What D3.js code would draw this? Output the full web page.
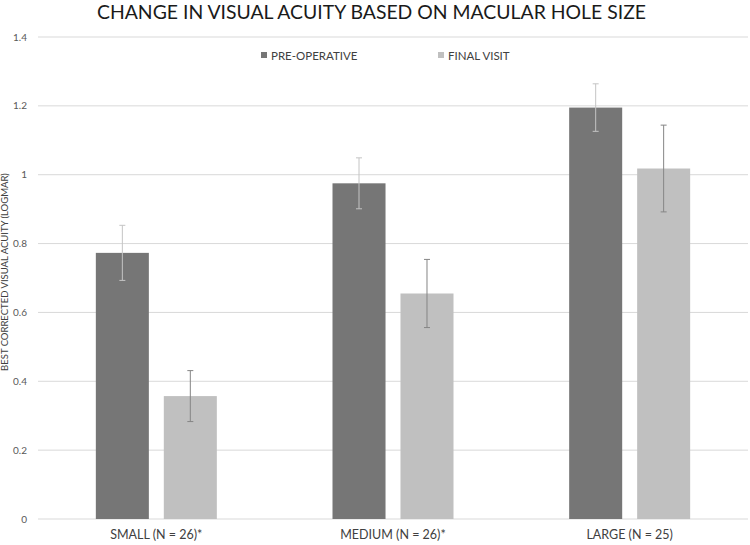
<!DOCTYPE html>
<html>
<head>
<meta charset="utf-8">
<script src="https://cdn.jsdelivr.net/npm/d3@7"></script>
<style>
  body { margin: 0; background: #fff; }
  text { font-family: Lato, "Open Sans", sans-serif; }
</style>
</head>
<body>
<div id="chart"></div>
<script>
// data
const categories = ['SMALL (N = 26)*', 'MEDIUM (N = 26)*', 'LARGE (N = 25)'];
const seriesNames = ['PRE-OPERATIVE', 'FINAL VISIT'];
const preOp = [0.773, 0.975, 1.195];
const preOpErr = [0.08, 0.074, 0.069];
const finalVisit = [0.357, 0.655, 1.018];
const finalErr = [0.074, 0.099, 0.126];
const yTicks = [0, 0.2, 0.4, 0.6, 0.8, 1, 1.2, 1.4];

const colors = ['#767676', '#c0c0c0'];
const errColors = ['#c4c4c4', '#858585'];

const width = 750, height = 545;
const margin = { top: 37, right: 2, bottom: 26, left: 38 };

const svg = d3.select('#chart').append('svg')
  .attr('width', width)
  .attr('height', height);

const x = d3.scaleBand()
  .domain(categories)
  .range([margin.left, width - margin.right]);

const x1 = d3.scaleBand()
  .domain(seriesNames)
  .range([0, 121])
  .paddingInner(0.22);

const y = d3.scaleLinear()
  .domain([0, 1.4])
  .range([height - margin.bottom, margin.top]);

// gridlines
svg.append('g')
  .selectAll('line')
  .data(yTicks)
  .enter()
  .append('line')
  .attr('x1', margin.left)
  .attr('x2', width - margin.right)
  .attr('y1', d => y(d))
  .attr('y2', d => y(d))
  .attr('stroke', '#d9d9d9')
  .attr('stroke-width', 1);

// y tick labels
svg.append('g')
  .selectAll('text')
  .data(yTicks)
  .enter()
  .append('text')
  .attr('x', 27)
  .attr('y', d => y(d))
  .attr('dy', '0.35em')
  .attr('text-anchor', 'end')
  .attr('font-size', '10px')
  .attr('fill', '#595959')
  .text(d => d);

// y title
svg.append('text')
  .attr('transform', 'translate(8, 272) rotate(-90)')
  .attr('text-anchor', 'middle')
  .attr('font-size', '9.5px')
  .attr('fill', '#404040')
  .text('BEST CORRECTED VISUAL ACUITY (LOGMAR)');

const series = [
  { name: seriesNames[0], values: preOp, err: preOpErr },
  { name: seriesNames[1], values: finalVisit, err: finalErr }
];

series.forEach((s, si) => {
  const g = svg.append('g');
  const off = d => x(d) + (x.bandwidth() - x1.range()[1]) / 2 + x1(s.name);

  g.selectAll('rect')
    .data(categories)
    .enter()
    .append('rect')
    .attr('x', d => off(d))
    .attr('y', (d, i) => y(s.values[i]))
    .attr('width', x1.bandwidth())
    .attr('height', (d, i) => y(0) - y(s.values[i]))
    .attr('fill', colors[si]);

  // error bars
  const cx = d => off(d) + x1.bandwidth() / 2;
  categories.forEach((c, i) => {
    const lo = y(s.values[i] - s.err[i]);
    const hi = y(s.values[i] + s.err[i]);
    g.append('line')
      .attr('x1', cx(c)).attr('x2', cx(c))
      .attr('y1', lo).attr('y2', hi)
      .attr('stroke', errColors[si]).attr('stroke-width', 1);
    [lo, hi].forEach(v => {
      g.append('line')
        .attr('x1', cx(c) - 3).attr('x2', cx(c) + 3)
        .attr('y1', v).attr('y2', v)
        .attr('stroke', errColors[si]).attr('stroke-width', 1);
    });
  });
});

// x labels
svg.append('g')
  .selectAll('text')
  .data(categories)
  .enter()
  .append('text')
  .attr('x', d => x(d) + x.bandwidth() / 2)
  .attr('y', 539)
  .attr('text-anchor', 'middle')
  .attr('font-size', '12.5px')
  .attr('fill', '#404040')
  .text(d => d);

// legend
const legendX = [261, 438];
series.forEach((s, si) => {
  svg.append('rect')
    .attr('x', legendX[si])
    .attr('y', 52)
    .attr('width', 6)
    .attr('height', 6)
    .attr('fill', colors[si]);
  svg.append('text')
    .attr('x', legendX[si] + 10)
    .attr('y', 59.5)
    .attr('font-size', '11.5px')
    .attr('fill', '#404040')
    .text(s.name);
});

// title
svg.append('text')
  .attr('x', 97)
  .attr('y', 18.5)
  .attr('textLength', 549)
  .attr('lengthAdjust', 'spacingAndGlyphs')
  .attr('font-family', '"Liberation Sans Narrow", "DejaVu Sans Condensed", sans-serif')
  .attr('font-size', '19px')
  .attr('fill', '#1a1a1a')
  .text('CHANGE IN VISUAL ACUITY BASED ON MACULAR HOLE SIZE');
</script>
</body>
</html>
